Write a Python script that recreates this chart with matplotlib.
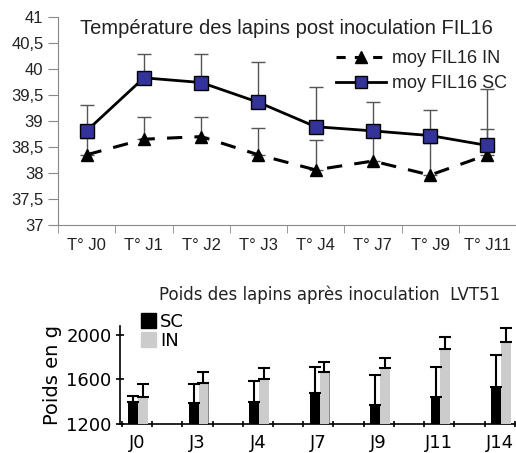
import matplotlib
matplotlib.use('Agg')
import matplotlib.pyplot as plt
from matplotlib.lines import Line2D
from matplotlib.patches import Patch
import numpy as np

# Top chart: temperature after FIL16 inoculation
temp_days = ['T° J0', 'T° J1', 'T° J2', 'T° J3', 'T° J4', 'T° J7', 'T° J9', 'T° J11']
temp_sc = [38.81, 39.83, 39.74, 39.36, 38.89, 38.81, 38.72, 38.53]
temp_sc_upper = [39.31, 40.29, 40.29, 40.13, 39.66, 39.37, 39.21, 39.61]
temp_in = [38.35, 38.65, 38.70, 38.35, 38.06, 38.23, 37.96, 38.35]
temp_in_upper = [38.67, 39.08, 39.07, 38.87, 38.63, 38.90, 38.58, 38.85]

# Bottom chart: weight after LVT51 inoculation
weight_days = ['J0', 'J3', 'J4', 'J7', 'J9', 'J11', 'J14']
weight_sc = [1395, 1390, 1400, 1480, 1370, 1440, 1535]
weight_sc_upper = [1450, 1560, 1590, 1710, 1640, 1715, 1820]
weight_in = [1440, 1570, 1600, 1670, 1705, 1875, 1940]
weight_in_upper = [1560, 1670, 1705, 1760, 1790, 1980, 2060]

fig = plt.figure(figsize=(5.16, 4.53), dpi=100)

# ---- top chart ----
ax1 = fig.add_axes([58/516, 228/453, 1 - 58/516, 208/453])
x = np.arange(len(temp_days))
sc_err = np.array(temp_sc_upper) - np.array(temp_sc)
in_err = np.array(temp_in_upper) - np.array(temp_in)

ax1.errorbar(x, temp_in, yerr=[np.zeros(len(x)), in_err], fmt='none',
             ecolor='#555555', elinewidth=1, capsize=5, capthick=1, zorder=2)
ax1.errorbar(x, temp_sc, yerr=[np.zeros(len(x)), sc_err], fmt='none',
             ecolor='#555555', elinewidth=1, capsize=5, capthick=1, zorder=2)
ax1.plot(x, temp_in, color='black', lw=2.2, ls=(0, (5, 4)), marker='^',
         markersize=9, markerfacecolor='black', zorder=3)
ax1.plot(x, temp_sc, color='black', lw=2, marker='s', markersize=10,
         markerfacecolor='#33339a', markeredgecolor='black', markeredgewidth=1, zorder=4)

ax1.set_xlim(-0.5, 7.5)
ax1.set_ylim(37, 41)
ax1.set_yticks(np.arange(37, 41.01, 0.5))
ax1.set_yticklabels([('%g' % v).replace('.', ',') for v in np.arange(37, 41.01, 0.5)])
ax1.set_xticks(x)
ax1.set_xticklabels(temp_days)
ax1.set_xticks(np.arange(-0.5, 8, 1), minor=True)
ax1.tick_params(axis='x', which='major', length=0, pad=9)
ax1.tick_params(axis='x', which='minor', length=6, color='#888888')
ax1.tick_params(axis='y', length=7, color='#888888')
for lab in ax1.get_xticklabels() + ax1.get_yticklabels():
    lab.set_fontfamily('Liberation Sans')
    lab.set_fontsize(12)
    lab.set_color('#222222')
ax1.spines['top'].set_visible(False)
ax1.spines['right'].set_visible(False)
ax1.spines['left'].set_color('#888888')
ax1.spines['bottom'].set_color('#888888')
ax1.text(0.048, 0.99, 'Température des lapins post inoculation FIL16',
         transform=ax1.transAxes, fontsize=14.5, family='Liberation Sans',
         color='#222222', ha='left', va='top')

handles = [Line2D([], [], color='black', lw=2.2, ls=(0, (3, 3)), marker='^',
                  markersize=8, markerfacecolor='black'),
           Line2D([], [], color='black', lw=2, marker='s', markersize=9,
                  markerfacecolor='#33339a', markeredgecolor='black')]
leg = ax1.legend(handles, ['moy FIL16 IN', 'moy FIL16 SC'], loc='upper right',
                 bbox_to_anchor=(1.015, 0.92), frameon=False, handlelength=2.8,
                 handletextpad=0.3, labelspacing=0.45,
                 prop={'family': 'Liberation Sans', 'size': 13})
for t in leg.get_texts():
    t.set_color('#222222')

# ---- bottom chart ----
ax2 = fig.add_axes([120/516, 29/453, 1 - 120/516, 98/453])
xw = np.arange(len(weight_days))
bw = 0.16
wsc_err = np.array(weight_sc_upper) - np.array(weight_sc)
win_err = np.array(weight_in_upper) - np.array(weight_in)

ax2.bar(xw - bw/2 + 0.02, weight_sc, width=bw, color='black', zorder=3)
# IN bars with darker shadow on the right side
ax2.bar(xw + bw/2 + 0.05, np.array(weight_in) - 10, width=bw * 0.7,
        color='#8a8a8a', zorder=2)
ax2.bar(xw + bw/2 + 0.02, weight_in, width=bw, color='#cccccc', zorder=3)
ax2.errorbar(xw - bw/2 + 0.02, weight_sc, yerr=[np.zeros(len(xw)), wsc_err],
             fmt='none', ecolor='black', elinewidth=1.5, capsize=4, capthick=1.5, zorder=4)
ax2.errorbar(xw + bw/2 + 0.02, weight_in, yerr=[np.zeros(len(xw)), win_err],
             fmt='none', ecolor='black', elinewidth=1.5, capsize=4, capthick=1.5, zorder=4)

ax2.set_xlim(-0.28, 6.27)
ax2.set_ylim(1200, 2080)
ax2.set_yticks([1200, 1600, 2000])
ax2.set_xticks(xw)
ax2.set_xticklabels(weight_days)
ax2.set_xticks(np.concatenate([xw - 0.25, xw + 0.25]), minor=True)
ax2.tick_params(axis='x', which='major', length=0, pad=7, labelsize=13)
ax2.tick_params(axis='x', which='minor', length=4, direction='inout', width=1.2)
ax2.tick_params(axis='y', length=6, direction='inout', width=1.2, labelsize=13, pad=3)
ax2.spines['top'].set_visible(False)
ax2.spines['right'].set_visible(False)
ax2.spines['left'].set_linewidth(1.2)
ax2.spines['bottom'].set_linewidth(1.2)
ax2.set_ylabel('Poids en g', fontsize=14, labelpad=3)
ax2.text(0.53, 1.22, 'Poids des lapins après inoculation  LVT51',
         transform=ax2.transAxes, fontsize=12, ha='center', va='bottom', color='#222222')
ax2.legend([Patch(color='black'), Patch(color='#cccccc')], ['SC', 'IN'],
           loc='upper left', bbox_to_anchor=(0.035, 1.21), frameon=False,
           handlelength=0.8, handleheight=0.9, handletextpad=0.25,
           labelspacing=0.05, borderaxespad=0, fontsize=13)

fig.savefig('out.png', dpi=100)
